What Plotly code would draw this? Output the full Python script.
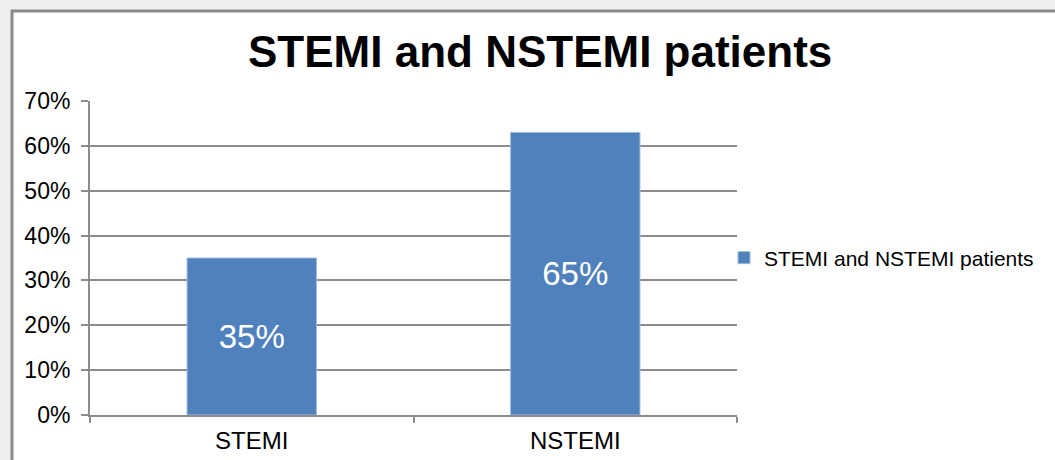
import plotly.graph_objects as go

categories = ["STEMI", "NSTEMI"]
values = [0.35, 0.63]
labels = ["35%", "65%"]
series_name = "STEMI and NSTEMI patients"
title_text = "STEMI and NSTEMI patients"
y_tick_vals = [0, 0.1, 0.2, 0.3, 0.4, 0.5, 0.6, 0.7]

FONT = "Liberation Sans, Arial, sans-serif"
GRID = "#8c8c8c"

fig = go.Figure()
fig.add_trace(go.Bar(
    x=categories, y=values, name=series_name,
    text=labels, textposition="inside", insidetextanchor="middle",
    textfont=dict(family=FONT, size=33, color="white"),
    marker=dict(color="#4F81BD", line=dict(color="#9fb9dc", width=1)),
    showlegend=True,
))

L, R, T, B = 90, 318, 101, 45
W, H = 1055, 460
pw, ph = W - L - R, H - T - B

fig.add_shape(type="rect", xref="paper", yref="paper", layer="below",
              x0=(12 - L) / pw, x1=(1075 - L) / pw,
              y0=(415 - 480) / ph, y1=(415 - 11) / ph,
              fillcolor="white", line=dict(color="#8a8a8a", width=3))

fig.update_layout(
    width=W, height=H,
    margin=dict(l=L, r=R, t=T, b=B, pad=0, autoexpand=False),
    paper_bgcolor="#efefef", plot_bgcolor="rgba(0,0,0,0)",
    bargap=0.6,
    font=dict(family=FONT, color="black"),
    title=dict(text="<b>" + title_text + "</b>", x=0.512, xanchor="center",
               y=1 - 52 / H, yanchor="middle", yref="container",
               font=dict(family=FONT, size=44, color="black")),
    legend=dict(x=(724 - L) / pw, xanchor="left", y=0.5, yanchor="middle",
                font=dict(family=FONT, size=21, color="black"),
                bgcolor="rgba(0,0,0,0)"),
    xaxis=dict(showline=True, linecolor=GRID, linewidth=2, automargin=False,
               ticks="outside", tickson="boundaries", ticklen=6,
               tickcolor=GRID, tickwidth=2,
               tickfont=dict(family=FONT, size=24, color="black"),
               ticklabelstandoff=3, showgrid=False),
    yaxis=dict(range=[0, 0.7], tickvals=y_tick_vals, tickformat=".0%",
               automargin=False,
               showline=True, linecolor=GRID, linewidth=2,
               ticks="outside", ticklen=7, tickcolor=GRID, tickwidth=2,
               showgrid=True, gridcolor=GRID, gridwidth=2,
               zeroline=False,
               tickfont=dict(family=FONT, size=23, color="black"),
               ticklabelstandoff=6),
)

fig.write_html("out.html")
